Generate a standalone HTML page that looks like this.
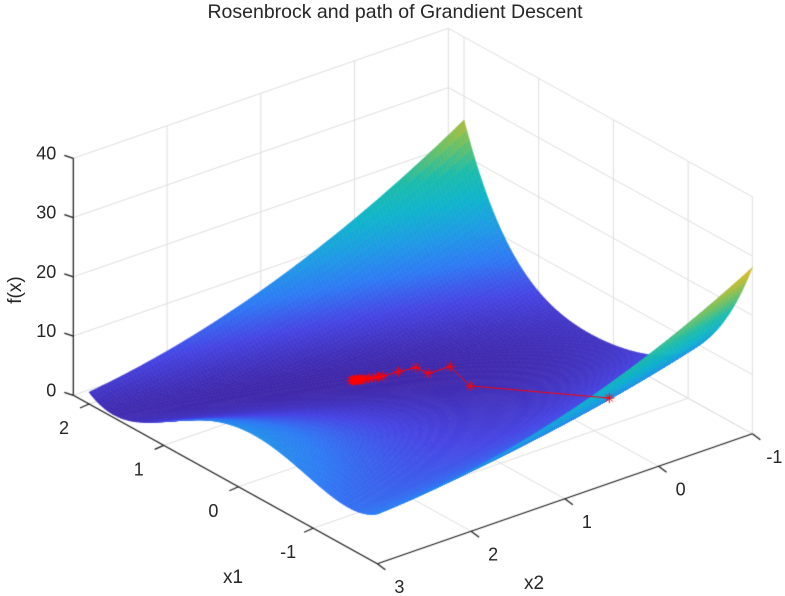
<!DOCTYPE html>
<html><head><meta charset="utf-8"><style>
html,body{margin:0;padding:0;background:#fff;width:785px;height:596px;overflow:hidden}
#wrap{position:relative;width:785px;height:596px}
canvas,svg{position:absolute;left:0;top:0}
text{font-family:"Liberation Sans",Arial,sans-serif;fill:#262626}
</style></head><body>
<div id="wrap">
<canvas id="cv" width="785" height="596"></canvas>
<svg id="sv" width="785" height="596">
<text x="395" y="18" font-size="19.5" text-anchor="middle">Rosenbrock and path of Grandient Descent</text>
<text x="0" y="0" font-size="19" text-anchor="middle" transform="translate(21,290) rotate(-90)">f(x)</text>
<text x="233" y="583" font-size="19" text-anchor="middle">x1</text>
<text x="534" y="589" font-size="19" text-anchor="middle">x2</text>
<g id="ticklabels"></g>
</svg>
</div>
<script>
// ---- data ----
const x1Ticks = [-1, 0, 1, 2];
const x2Ticks = [-1, 0, 1, 2, 3];
const zTicks = [0, 10, 20, 30, 40];
const pathX1 = [-1.2, 0.25, 0.68, 0.70, 0.85, 0.88, 0.90, 0.91, 0.92, 0.93, 0.94, 0.95, 0.955, 0.96, 0.965, 0.97, 0.975, 0.98, 0.985, 0.99, 0.995, 1.0];
const pathX2 = [0.0, 0.33, 0.20, 0.42, 0.43, 0.59, 0.74, 0.78, 0.80, 0.84, 0.86, 0.89, 0.91, 0.92, 0.93, 0.94, 0.95, 0.96, 0.97, 0.98, 0.99, 1.0];
const x1Lim = [-1.86, 2.21];
const x2Lim = [-1, 3];
const zLim = [0, 40];
const surfX1 = [-1.86, 2];
const surfX2 = [-1, 3];
const cLim = [0, 38];

function f(a, b) { return (1 - a) * (1 - a) + (b - a * a) * (b - a * a); }
function P(x1, x2, z) {
  return [89 + (2 - x1) * 74.7 + (3 - x2) * 93.75, 404 + (2 - x1) * 41.4 - (3 - x2) * 32.5 - z * 5.925];
}
const stops = [[62,38,168],[70,68,228],[46,122,244],[30,155,228],[16,180,204],[28,188,170],[110,192,100],[200,188,45],[236,190,42],[252,210,44],[249,251,14]];
function cmap(v) {
  let t = (v - cLim[0]) / (cLim[1] - cLim[0]); t = Math.max(0, Math.min(1, t)) * 10;
  const i = Math.min(9, Math.floor(t)), r = t - i, a = stops[i], b = stops[i + 1];
  return 'rgb(' + [0,1,2].map(k => Math.round(a[k] + (b[k] - a[k]) * r)).join(',') + ')';
}
const cv = document.getElementById('cv'), ctx = cv.getContext('2d');
function line(p, q, col, w) { ctx.strokeStyle = col; ctx.lineWidth = w; ctx.beginPath(); ctx.moveTo(p[0], p[1]); ctx.lineTo(q[0], q[1]); ctx.stroke(); }
const G = '#dedede';
x1Ticks.forEach(v => line(P(v, x2Lim[0], 0), P(v, x2Lim[1], 0), G, 1));
x2Ticks.forEach(v => line(P(x1Lim[0], v, 0), P(x1Lim[1], v, 0), G, 1));
zTicks.forEach(z => line(P(x1Lim[1], x2Lim[0], z), P(x1Lim[1], x2Lim[1], z), G, 1));
x2Ticks.forEach(v => line(P(x1Lim[1], v, 0), P(x1Lim[1], v, zLim[1]), G, 1));
zTicks.forEach(z => line(P(x1Lim[0], x2Lim[0], z), P(x1Lim[1], x2Lim[0], z), G, 1));
x1Ticks.forEach(v => line(P(v, x2Lim[0], 0), P(v, x2Lim[0], zLim[1]), G, 1));
line(P(x1Lim[0], x2Lim[0], 0), P(x1Lim[0], x2Lim[0], zLim[1]), G, 1);
const N = 110, quads = [];
for (let i = 0; i < N; i++) for (let j = 0; j < N; j++) {
  const a0 = surfX1[0] + (surfX1[1] - surfX1[0]) * i / N, a1 = surfX1[0] + (surfX1[1] - surfX1[0]) * (i + 1) / N;
  const b0 = surfX2[0] + (surfX2[1] - surfX2[0]) * j / N, b1 = surfX2[0] + (surfX2[1] - surfX2[0]) * (j + 1) / N;
  const am = (a0 + a1) / 2, bm = (b0 + b1) / 2;
  const z00 = f(a0, b0), z10 = f(a1, b0), z11 = f(a1, b1), z01 = f(a0, b1);
  quads.push({d: 375 * am / 4.07 - 304 * bm / 4, pts: [P(a0, b0, z00), P(a1, b0, z10), P(a1, b1, z11), P(a0, b1, z01)], c: cmap((z00 + z10 + z11 + z01) / 4)});
}
quads.sort((p, q) => q.d - p.d);
ctx.lineWidth = 0.6;
quads.forEach(q => {
  ctx.fillStyle = q.c; ctx.strokeStyle = q.c; ctx.beginPath();
  ctx.moveTo(q.pts[0][0], q.pts[0][1]);
  for (let k = 1; k < 4; k++) ctx.lineTo(q.pts[k][0], q.pts[k][1]);
  ctx.closePath(); ctx.fill(); ctx.stroke();
});
const A = '#1a1a1a';
line(P(x1Lim[1], x2Lim[1], zLim[0]), P(x1Lim[1], x2Lim[1], zLim[1]), A, 1.2);
line(P(x1Lim[1], x2Lim[1], 0), P(x1Lim[0], x2Lim[1], 0), A, 1.2);
line(P(x1Lim[0], x2Lim[1], 0), P(x1Lim[0], x2Lim[0], 0), A, 1.2);
const svg = document.getElementById('ticklabels');
function addText(x, y, s, anchor, name) {
  const t = document.createElementNS('http://www.w3.org/2000/svg', 'text');
  t.setAttribute('x', x); t.setAttribute('y', y); t.setAttribute('font-size', '18');
  t.setAttribute('text-anchor', anchor);
  
  
  t.textContent = s; svg.appendChild(t);
}
x1Ticks.forEach(v => { const p = P(v, x2Lim[1], 0); line(p, [p[0] - 9, p[1] + 4], A, 1.2); addText(p[0] - 25, p[1] + 30, String(v), 'middle', 'x1-tick-label'); });
x2Ticks.forEach(v => { const p = P(x1Lim[0], v, 0); line(p, [p[0] + 8, p[1] + 6], A, 1.2); addText(p[0] + 22, p[1] + 29, String(v), 'middle', 'x2-tick-label'); });
zTicks.forEach(z => { const p = P(x1Lim[1], x2Lim[1], z); line(p, [p[0] - 9, p[1] - 3], A, 1.2); addText(p[0] - 17, p[1] + 1, String(z), 'end', 'z-tick-label'); });
const pts = pathX1.map((a, i) => P(a, pathX2[i], f(a, pathX2[i])));
ctx.strokeStyle = '#ff0000'; ctx.lineWidth = 1; ctx.beginPath();
pts.forEach((p, i) => i ? ctx.lineTo(p[0], p[1]) : ctx.moveTo(p[0], p[1])); ctx.stroke();
pts.forEach(p => {
  const r = 5, r2 = 3.6;
  line([p[0] - r, p[1]], [p[0] + r, p[1]], '#ff0000', 1);
  line([p[0], p[1] - r], [p[0], p[1] + r], '#ff0000', 1);
  line([p[0] - r2, p[1] - r2], [p[0] + r2, p[1] + r2], '#ff0000', 1);
  line([p[0] - r2, p[1] + r2], [p[0] + r2, p[1] - r2], '#ff0000', 1);
});
</script>
</body></html>
